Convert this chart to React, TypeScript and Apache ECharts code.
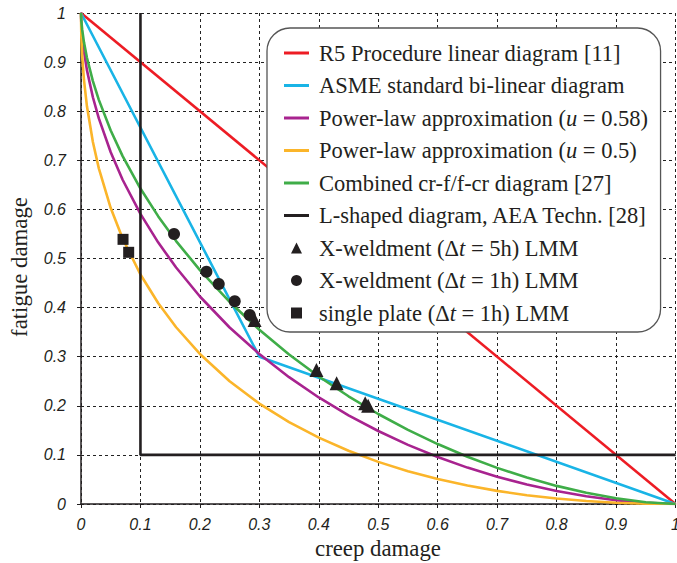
import React, { useEffect, useRef } from "react";
import * as echarts from "echarts";

// creep damage abscissae used for the curved diagrams
const creepX = [0, 0.0005, 0.002, 0.005, 0.01, 0.02, 0.03, 0.05, 0.07, 0.1, 0.13, 0.16, 0.2, 0.25, 0.3, 0.35, 0.4, 0.45, 0.5, 0.55, 0.6, 0.65, 0.7, 0.75, 0.8, 0.85, 0.9, 0.95, 1];
// fatigue damage
const powerLaw058 = [1, 0.9791, 0.9536, 0.9216, 0.8837, 0.8284, 0.7853, 0.7163, 0.6604, 0.5908, 0.5324, 0.4816, 0.4226, 0.3595, 0.3054, 0.2583, 0.217, 0.1807, 0.1487, 0.1205, 0.0957, 0.0741, 0.0555, 0.0396, 0.0264, 0.0157, 0.0077, 0.0023, 0];
const powerLaw05 = [1, 0.9558, 0.9126, 0.8636, 0.81, 0.7372, 0.6836, 0.6028, 0.5408, 0.4675, 0.4089, 0.36, 0.3056, 0.25, 0.2046, 0.1668, 0.1351, 0.1084, 0.0858, 0.0668, 0.0508, 0.0375, 0.0267, 0.0179, 0.0111, 0.0061, 0.0026, 0.0006, 0];
const combined = [1, 0.9856, 0.966, 0.9403, 0.9088, 0.8613, 0.8231, 0.7606, 0.7086, 0.6425, 0.5857, 0.5355, 0.4762, 0.4115, 0.3548, 0.3045, 0.2596, 0.2194, 0.1833, 0.151, 0.1221, 0.0963, 0.0736, 0.0538, 0.0369, 0.0228, 0.0116, 0.0037, 0];

const r5Linear = [[0, 1], [1, 0]];
const asmeBilinear = [[0, 1], [0.3, 0.3], [1, 0]];
const lShaped = [[0.1, 1], [0.1, 0.1], [1, 0.1]];

const xWeld5h = [[0.292, 0.375], [0.396, 0.273], [0.43, 0.246], [0.478, 0.205], [0.483, 0.2]];
const xWeld1h = [[0.1565, 0.55], [0.211, 0.473], [0.2317, 0.448], [0.2586, 0.413], [0.2838, 0.385]];
const singlePlate = [[0.0707, 0.539], [0.0802, 0.5126]];

const names = [
  "R5 Procedure linear diagram [11]",
  "ASME standard bi-linear diagram",
  "Power-law approximation (u = 0.58)",
  "Power-law approximation (u = 0.5)",
  "Combined cr-f/f-cr diagram [27]",
  "L-shaped diagram, AEA Techn. [28]",
  "X-weldment (Δt = 5h) LMM",
  "X-weldment (Δt = 1h) LMM",
  "single plate (Δt = 1h) LMM",
];

const richNames: Record<string, string> = {
  [names[2]]: "Power-law approximation ({i|u} = 0.58)",
  [names[3]]: "Power-law approximation ({i|u} = 0.5)",
  [names[6]]: "X-weldment (Δ{i|t} = 5h) LMM",
  [names[7]]: "X-weldment (Δ{i|t} = 1h) LMM",
  [names[8]]: "single plate (Δ{i|t} = 1h) LMM",
};

const LINE_ICON = "path://M0,0 L25,0 L25,3 L0,3 Z";
const TRI_ICON = "path://M5,0 L10,10 L0,10 Z";
const CIRCLE_ICON = "path://M5,0 A5,5 0 1 1 4.99,0 Z";
const SQUARE_ICON = "path://M0,0 L10,0 L10,10 L0,10 Z";
const legendIcons = [LINE_ICON, LINE_ICON, LINE_ICON, LINE_ICON, LINE_ICON, LINE_ICON, TRI_ICON, CIRCLE_ICON, SQUARE_ICON];

const zip = (xs: number[], ys: number[]) => xs.map((x, i) => [x, ys[i]]);

const SERIF = "'Liberation Serif', 'Times New Roman', serif";
const SANS = "'Liberation Sans', Arial, sans-serif";
const INK = "#231f20";
const LEGEND_FS = 22.5;

export default function App() {
  const ref = useRef<HTMLDivElement>(null);
  useEffect(() => {
    if (!ref.current) return;
    const chart = echarts.init(ref.current, undefined, { renderer: "svg" });
    const lineSeries = (name: string, data: number[][], color: string, width = 2.6) => ({
      name,
      type: "line",
      data,
      symbol: "none",
      lineStyle: { color, width },
      itemStyle: { color },
      z: 3,
    });
    const axisCommon = {
      type: "value",
      min: 0,
      max: 1,
      interval: 0.1,
      axisLine: { show: true, onZero: false, lineStyle: { color: INK, width: 1.5 } },
      axisTick: { show: true, length: 4, lineStyle: { color: INK, width: 1 } },
      splitLine: { show: true, lineStyle: { color: "#222", width: 1, type: [3, 3] } },
      axisLabel: {
        fontFamily: SANS,
        fontStyle: "italic",
        fontSize: 16,
        color: INK,
      },
    };
    chart.setOption({
      animation: false,
      backgroundColor: "#fff",
      grid: { left: 81, right: 1.5, top: 13, bottom: 59, containLabel: false, outerBoundsMode: "none" },
      xAxis: { ...axisCommon, axisLabel: { ...axisCommon.axisLabel, margin: 12 } },
      yAxis: { ...axisCommon, axisLabel: { ...axisCommon.axisLabel, margin: 15 } },
      legend: {
        orient: "vertical",
        left: 267,
        top: 28,
        z: 10,
        padding: [13, 12, 7, 17],
        itemGap: 8.5,
        itemWidth: 25,
        itemHeight: 11,
        backgroundColor: "#fff",
        borderColor: "#555",
        borderWidth: 1.3,
        borderRadius: 23,
        data: names.map((n, i) => ({ name: n, icon: legendIcons[i] })),
        formatter: (n: string) => richNames[n] || n,
        textStyle: {
          fontFamily: SERIF,
          fontSize: LEGEND_FS,
          color: INK,
          lineHeight: 24,
          padding: [0, 0, 0, 5],
          rich: {
            i: { fontFamily: SERIF, fontSize: LEGEND_FS, fontStyle: "italic", color: INK, lineHeight: 24 },
          },
        },
      },
      graphic: [
        {
          type: "text",
          x: 378,
          y: 548,
          style: { text: "creep damage", font: `22.8px ${SERIF}`, fill: INK, textAlign: "center", textVerticalAlign: "middle" },
        },
        {
          type: "text",
          x: 19,
          y: 267,
          rotation: Math.PI / 2,
          style: { text: "fatigue damage", font: `22.8px ${SERIF}`, fill: INK, textAlign: "center", textVerticalAlign: "middle" },
        },
      ],
      series: [
        lineSeries(names[0], r5Linear, "#ed1c24"),
        lineSeries(names[1], asmeBilinear, "#19b4e6"),
        lineSeries(names[2], zip(creepX, powerLaw058), "#a8238f"),
        lineSeries(names[3], zip(creepX, powerLaw05), "#fbb52a"),
        lineSeries(names[4], zip(creepX, combined), "#3fad48"),
        lineSeries(names[5], lShaped, INK, 2.6),
        {
          name: names[6],
          type: "scatter",
          data: xWeld5h,
          symbol: "triangle",
          symbolSize: 14,
          itemStyle: { color: INK, opacity: 1 },
          z: 5,
        },
        {
          name: names[7],
          type: "scatter",
          data: xWeld1h,
          symbol: "circle",
          symbolSize: 12,
          itemStyle: { color: INK, opacity: 1 },
          z: 5,
        },
        {
          name: names[8],
          type: "scatter",
          data: singlePlate,
          symbol: "rect",
          symbolSize: 11,
          itemStyle: { color: INK, opacity: 1 },
          z: 5,
        },
      ],
    });
    return () => chart.dispose();
  }, []);
  return <div ref={ref} style={{ width: 677, height: 563, position: "absolute", left: 0, top: 0 }} />;
}
